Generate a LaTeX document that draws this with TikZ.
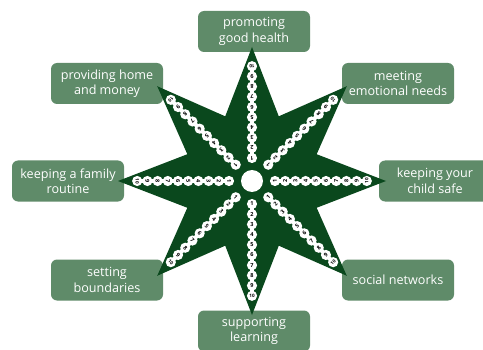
\documentclass[tikz,border=0pt]{standalone}
\usepackage{fontspec}
\setmainfont{Open Sans}
\usetikzlibrary{calc}
\definecolor{stargreen}{HTML}{0A481D}
\definecolor{boxgreen}{HTML}{5F8B69}
\begin{document}
\begin{tikzpicture}[x=1pt,y=1pt,
  lbl/.style={fill=boxgreen, rounded corners=6pt, minimum width=112pt, minimum height=41pt,
    text=white, align=center, font=\fontsize{12.6}{15.5}\selectfont, inner sep=0pt},
  bead/.style={circle, fill=white, minimum size=10.2pt, inner sep=0pt,
    font=\fontsize{5.5}{5.5}\selectfont\bfseries},
  tenbead/.style={bead, font=\fontsize{4.6}{4.6}\selectfont\bfseries},
  chain/.style={white, line width=4pt}]
\clip (0,0) rectangle (483,349);
\useasboundingbox (0,0) rectangle (483,349);
% labels
\node[lbl] (health)   at (254,317.5) {promoting\\good health};
\node[lbl] (home)     at (107,265.5) {providing home\\and money};
\node[lbl] (emotion)  at (398,265.5) {meeting\\emotional needs};
\node[lbl] (routine)  at (68,168)    {keeping a family\\routine};
\node[lbl] (safe)     at (435,168)   {keeping your\\child safe};
\node[lbl] (bounds)   at (107,69)    {setting\\boundaries};
\node[lbl] (social)   at (398,69)    {social networks};
\node[lbl] (learning) at (254,18)    {supporting\\learning};
% star
\coordinate (c) at (252,168);
\fill[stargreen, shift={(252,168)}] (90:134)
  \foreach \i in {1,...,15} { -- ({90+22.5*\i}:{mod(\i,2)==1 ? 70 : 134}) } -- cycle;
\node[circle, fill=white, minimum size=22pt, inner sep=0pt] (hub) at (c) {};
% bead chains
\foreach \a [count=\r] in {0,45,...,315} {
  \draw[chain, shift={(252,168)}] (\a:23) -- (\a:114.8);
  \foreach \k in {1,...,9} {
    \node[bead, rotate=\a+90] (b\r-\k) at ($(c)+(\a:{23+(\k-1)*10.2})$) {\k};
  }
  \node[tenbead, rotate=\a+90] (b\r-10) at ($(c)+(\a:114.8)$) {10};
}
\end{tikzpicture}
\end{document}
